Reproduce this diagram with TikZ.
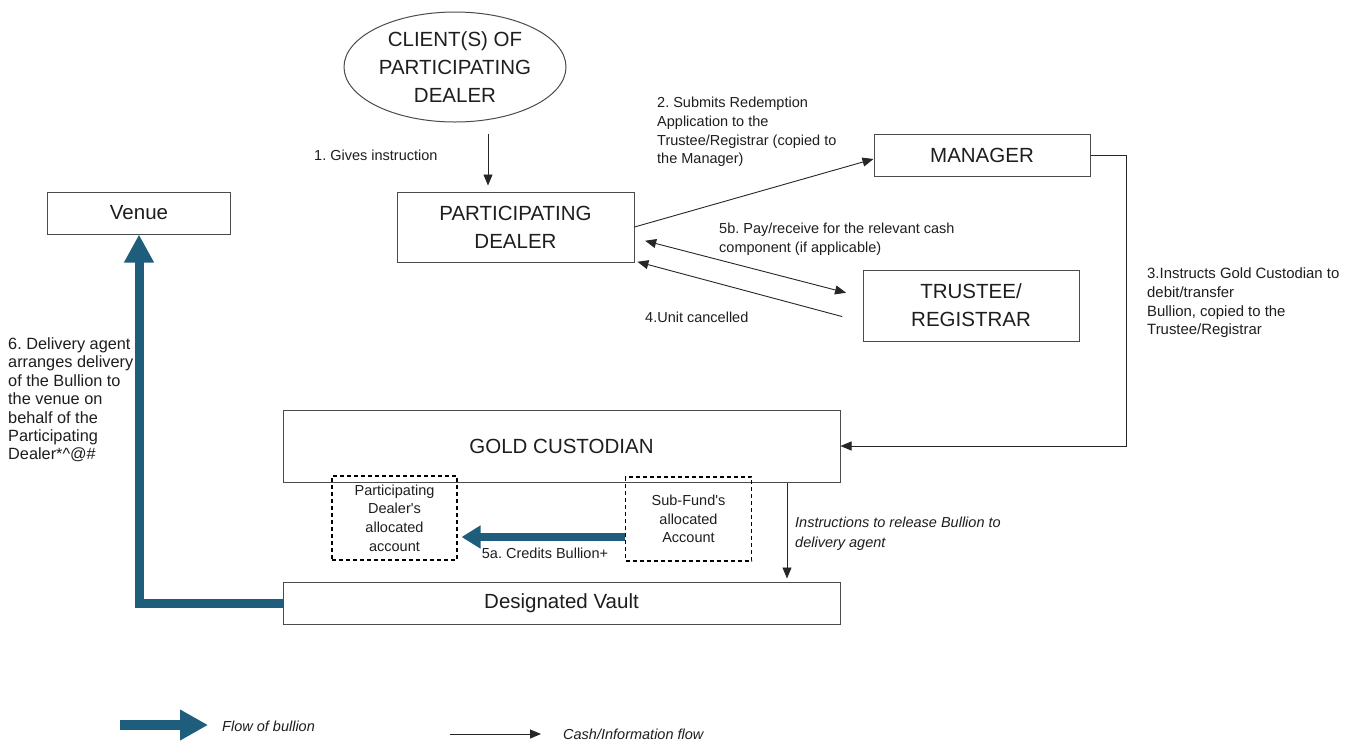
\documentclass[tikz,border=0pt]{standalone}
\usepackage{fontspec}
\setmainfont{Liberation Sans}
\usetikzlibrary{arrows.meta,shapes.geometric,calc}
\definecolor{tealflow}{RGB}{30,93,124}
\definecolor{edgegray}{RGB}{75,75,75}
\definecolor{txtgray}{RGB}{30,30,30}
\newcommand\BigTxt{\fontsize{20.5}{28}\selectfont}
\newcommand\SmTxt{\fontsize{14.5}{18.7}\selectfont}
\newcommand\SixTxt{\fontsize{16.3}{18.4}\selectfont}
\newcommand\AccTxt{\fontsize{14.5}{18.6}\selectfont}
\frenchspacing
\begin{document}
\begin{tikzpicture}[x=1pt,y=-1pt,
  box/.style={draw=edgegray, line width=1pt, rectangle, inner sep=0pt, align=center, font=\BigTxt, text=txtgray},
  accbox/.style={draw=black, line width=1.2pt, dash pattern=on 4pt off 3pt, rectangle, inner sep=0pt, align=center, font=\AccTxt, text=txtgray},
  lbl/.style={font=\SmTxt, align=left, anchor=west, inner sep=0pt, text=txtgray},
  cash/.style={draw=black!85, line width=0.9pt, -{Triangle[length=11pt,width=9pt]}},
  cashboth/.style={draw=black!85, line width=0.9pt, {Triangle[length=11pt,width=9pt]}-{Triangle[length=11pt,width=9pt]}},
  bullion/.style={draw=tealflow, line width=9pt, -{Triangle[length=28pt,width=28pt]}},
  bullionsm/.style={draw=tealflow, line width=8pt, -{Triangle[length=19pt,width=22pt]}}
]
\fill[white] (0,0) rectangle (1360,740);
\useasboundingbox (0,0) rectangle (1360,740);

% nodes
\node[ellipse, draw=edgegray, line width=1pt, minimum width=222pt, minimum height=110pt, inner sep=0pt, align=center, font=\BigTxt, text=txtgray] (client) at (455,67) {CLIENT(S) OF\\PARTICIPATING\\DEALER};
\node[box, minimum width=237pt, minimum height=70pt] (dealer) at (515.5,227) {PARTICIPATING\\DEALER};
\node[box, minimum width=216pt, minimum height=42pt] (manager) at (982,155) {MANAGER};
\node[box, minimum width=183pt, minimum height=42pt] (venue) at (139,213) {Venue};
\node[box, minimum width=216pt, minimum height=71pt] (trustee) at (971,305.5) {TRUSTEE/\\REGISTRAR};
\node[box, minimum width=557pt, minimum height=72pt] (gold) at (561.5,446) {GOLD CUSTODIAN};
\node[box, minimum width=557pt, minimum height=42pt] (vault) at (561.5,603) {Designated Vault};
\node[accbox, minimum width=125pt, minimum height=84pt] (acc1) at (394.5,518) {Participating\\Dealer\textquotesingle s\\allocated\\account};
\node[accbox, minimum width=126pt, minimum height=84pt] (acc2) at (688.5,519) {Sub-Fund\textquotesingle s\\allocated\\Account};

% labels
\node[lbl] (l1) at (314,155) {1. Gives instruction};
\node[lbl] (l2) at (657,132) {2. Submits Redemption\\Application to the\\Trustee/Registrar (copied to\\the Manager)};
\node[lbl] (l5b) at (719,239) {5b. Pay/receive for the relevant cash\\component (if applicable)};
\node[lbl] (l4) at (645,317) {4.Unit cancelled};
\node[lbl, font=\fontsize{14.9}{18.7}\selectfont] (l3) at (1147,303) {3.Instructs Gold Custodian to\\debit/transfer\\Bullion, copied to the\\Trustee/Registrar};
\node[lbl, font=\SixTxt] (l6) at (8,400) {6. Delivery agent\\arranges delivery\\of the Bullion to\\the venue on\\behalf of the\\Participating\\Dealer*\^{}@\#};
\node[lbl, font=\SmTxt\itshape, align=left] (linstr) at (795,534) {Instructions to release Bullion to\\[1pt]delivery agent};
\node[lbl, anchor=center] (l5a) at (545,553) {5a. Credits Bullion+};

% connectors
\draw[cash, shorten <=11pt, shorten >=6pt] (client.south -| 488,0) -- (dealer.north -| 488,0);
\draw[cash] (dealer.east) -- (manager.west |- 0,159);
\draw[cashboth, shorten <=11pt, shorten >=17pt] (dealer.east |- 0,238) -- (trustee.west |- 0,297);
\draw[cash, shorten <=21pt, shorten >=3pt] (trustee.west |- 0,322) -- (dealer.east |- 0,261);
\draw[cash] (manager.east) -- ++(36,0) |- (gold.east);
\draw[cash, shorten >=3pt] (gold.south -| 787,0) -- (vault.north -| 787,0);
\draw[bullionsm, shorten >=4pt] (acc2.west |- 0,537) -- (acc1.east |- 0,537);
\draw[bullion] (vault.west) -| (venue.south);

% legend
\coordinate (lgA1) at (120,725);
\coordinate (lgA2) at (208,725);
\coordinate (lgB1) at (450,734);
\coordinate (lgB2) at (541,734);
\draw[draw=tealflow, line width=10pt, -{Triangle[length=28pt,width=29pt]}] (lgA1) -- (lgA2);
\draw[cash] (lgB1) -- (lgB2);
\node[lbl, font=\SmTxt\itshape] (lg1) at (222,726) {Flow of bullion};
\node[lbl, font=\SmTxt\itshape] (lg2) at (563,734) {Cash/Information flow};
\end{tikzpicture}
\end{document}
